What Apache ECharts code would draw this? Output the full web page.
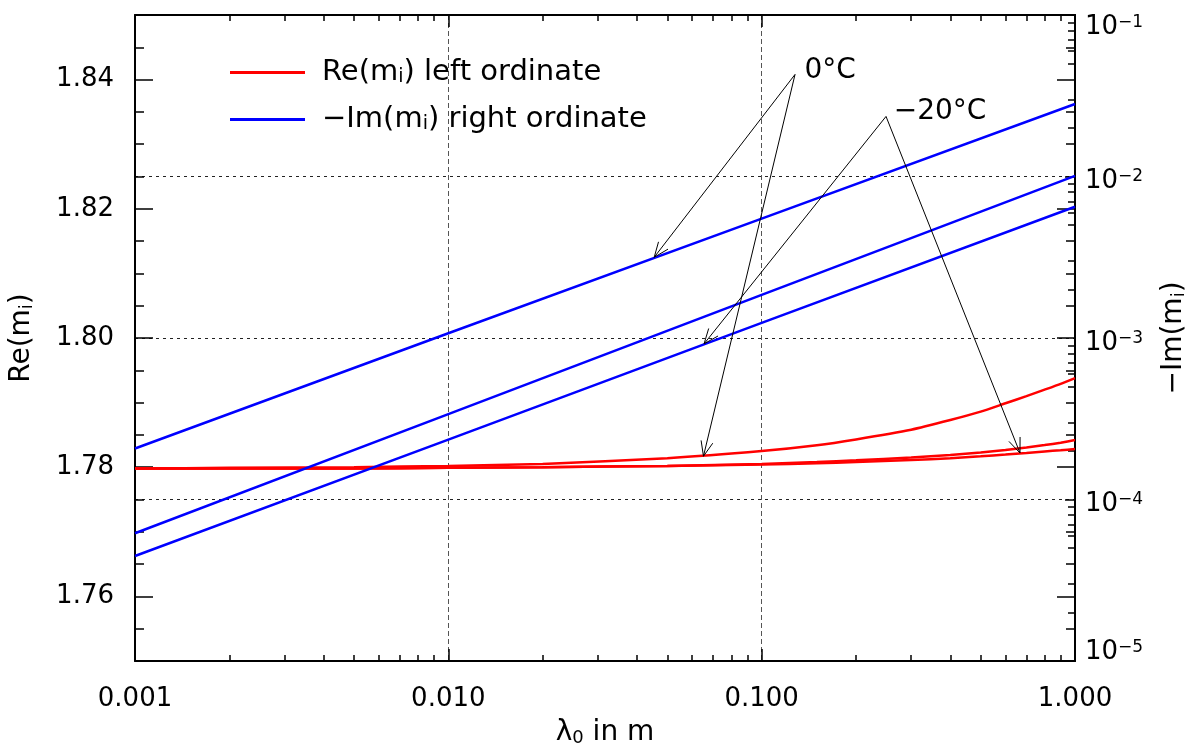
<!DOCTYPE html>
<html>
<head>
<meta charset="utf-8">
<script src="https://cdn.jsdelivr.net/npm/echarts@6/dist/echarts.min.js"></script>
<style>
  html, body { margin: 0; padding: 0; background: #fff; }
  #chart { width: 1192px; height: 747px; }
</style>
</head>
<body>
<div id="chart"></div>
<script>
const FONT = '"DejaVu Sans", sans-serif'
const BLACK = '#000'

// wavelength (m) for the real part curves
const lambdaRe = [0.001, 0.002, 0.005, 0.01, 0.02, 0.05, 0.1, 0.15, 0.2, 0.3, 0.4, 0.5, 0.6, 0.7, 0.8, 0.9, 1.0]
// Re(m_i), 0°C / middle / -20°C
const reWarm = [1.7798, 1.7799, 1.7800, 1.7802, 1.7805, 1.7814, 1.7825, 1.7834, 1.7843, 1.7858, 1.7873, 1.7886, 1.7899, 1.7910, 1.7920, 1.7929, 1.7938]
const reMid = [1.7798, 1.7798, 1.7798, 1.7799, 1.7800, 1.7802, 1.78050, 1.78080, 1.78108, 1.78150, 1.78190, 1.78228, 1.78266, 1.78305, 1.78342, 1.78380, 1.78420]
const reCold = [1.7798, 1.7798, 1.7798, 1.7799, 1.7800, 1.7802, 1.78040, 1.78060, 1.78080, 1.78110, 1.78140, 1.78168, 1.78195, 1.78220, 1.78244, 1.78263, 1.78282]

// wavelength (m) for the imaginary part lines (straight in log-log)
const lambdaIm = [0.001, 0.01, 0.1, 1.0]
const imWarm = [2.07e-4, 1.07e-3, 5.48e-3, 2.81e-2]
const imMid = [6.18e-5, 3.38e-4, 1.85e-3, 1.01e-2]
const imCold = [4.47e-5, 2.35e-4, 1.24e-3, 6.50e-3]

// ticks
const reLabelTicks = [1.76, 1.78, 1.80, 1.82, 1.84]
const reMinorTicks = [1.755, 1.765, 1.77, 1.775, 1.785, 1.79, 1.795, 1.805, 1.81, 1.815, 1.825, 1.83, 1.835, 1.845]
const xDecades = [0.001, 0.01, 0.1]
const imDecades = [1e-5, 1e-4, 1e-3, 1e-2]
const minorSteps = [2, 3, 4, 5, 6, 7, 8, 9]

// annotations: text position, line origin, arrow tips (x, Re(m) coords)
const notes = [
  { text: '0°C', at: [0.1370, 1.8414], from: [0.1278, 1.8408], tips: [[0.0454, 1.8125], [0.0652, 1.7817]] },
  { text: '−20°C', at: [0.2640, 1.8350], from: [0.2494, 1.8343], tips: [[0.0655, 1.7991], [0.6675, 1.7822]] },
]

const pairs = (xs, ys) => xs.map((x, i) => [x, ys[i]])
const logMinor = decades => {
  let out = []
  decades.forEach(d => minorSteps.forEach(k => out.push(Math.log10(k * d))))
  return out
}

const richText = {
  t: { fontSize: 28, fontFamily: FONT, color: BLACK },
  s: { fontSize: 18, fontFamily: FONT, color: BLACK, verticalAlign: 'bottom' },
}
const legendRich = {
  t: { fontSize: 29, fontFamily: FONT, color: BLACK },
  s: { fontSize: 19, fontFamily: FONT, color: BLACK, verticalAlign: 'bottom' },
}
// 10^-n labels; top and bottom ones are pushed inside the frame
const powBase = pad => ({ fontSize: 26, fontFamily: FONT, color: BLACK, padding: pad })
const powExp = pad => ({ fontSize: 17, fontFamily: FONT, color: BLACK, verticalAlign: 'top', padding: pad })
const powRich = {
  b: powBase([10, 0, 0, 0]), e: powExp([10, 0, 0, 0]),
  bt: powBase([24, 0, 0, 0]), et: powExp([24, 0, 0, 0]),
  bb: powBase([0, 0, 18, 0]), eb: powExp([0, 0, 18, 0]),
}
const powLabel = v => {
  const n = Math.round(-Math.log10(v))
  const k = n === 1 ? 't' : (n === 5 ? 'b' : '')
  return '{b' + k + '|10}{e' + k + '|−' + n + '}'
}

const frameLine = { show: true, onZero: false, lineStyle: { color: BLACK, width: 2 } }
const tickStyle = { color: BLACK, width: 1.5 }

// axis that only draws ticks (used for minor and mirrored ticks)
const tickAxis = (extra) => Object.assign({
  axisLine: { show: false, onZero: false },
  axisLabel: { show: false },
  splitLine: { show: false },
}, extra)

const chart = echarts.init(document.getElementById('chart'))

const redLine = { color: '#ff0000', width: 2.5 }
const blueLine = { color: '#0000ff', width: 2.5 }

const options = {
  animation: false,
  backgroundColor: '#fff',
  textStyle: { fontFamily: FONT },
  grid: { left: 135, right: 117, top: 15, bottom: 86, outerBoundsMode: 'none', containLabel: false },
  legend: {
    data: ['Re', 'Im'],
    orient: 'vertical',
    left: 230,
    top: 58,
    padding: 0,
    icon: 'rect',
    itemWidth: 75,
    itemHeight: 3,
    itemGap: 18,
    selectedMode: false,
    formatter: n => n === 'Re'
      ? '{t|Re(m}{s|i}{t|) left ordinate}'
      : '{t|−Im(m}{s|i}{t|) right ordinate}',
    textStyle: { color: BLACK, fontSize: 29, fontFamily: FONT, padding: [0, 0, 0, 12], rich: legendRich },
  },
  xAxis: [
    {
      type: 'log', logBase: 10, min: 0.001, max: 1, position: 'bottom',
      name: '{t|λ}{s|0}{t| in m}', nameLocation: 'middle', nameGap: 58,
      nameTextStyle: { rich: richText },
      axisLine: frameLine,
      axisTick: { show: true, inside: true, length: 12, lineStyle: tickStyle },
      axisLabel: { show: true, margin: 25, fontSize: 26, fontFamily: FONT, color: BLACK, formatter: v => Number(v).toFixed(3) },
      splitLine: { show: true, lineStyle: { color: '#555', width: 1, type: [5, 3] } },
    },
    tickAxis({
      type: 'value', min: -3, max: 0, position: 'bottom',
      axisTick: { show: true, inside: true, length: 6, customValues: logMinor(xDecades), lineStyle: tickStyle },
    }),
    {
      type: 'log', logBase: 10, min: 0.001, max: 1, position: 'top',
      axisLine: frameLine,
      axisTick: { show: true, inside: true, length: 12, lineStyle: tickStyle },
      axisLabel: { show: false },
      splitLine: { show: false },
    },
    tickAxis({
      type: 'value', min: -3, max: 0, position: 'top',
      axisTick: { show: true, inside: true, length: 6, customValues: logMinor(xDecades), lineStyle: tickStyle },
    }),
  ],
  yAxis: [
    {
      type: 'value', min: 1.75, max: 1.85, position: 'left',
      name: '{t|Re(m}{s|i}{t|)}', nameLocation: 'middle', nameRotate: 90, nameGap: 99,
      nameTextStyle: { rich: richText },
      axisLine: frameLine,
      axisTick: { show: true, inside: true, length: 18, customValues: reLabelTicks, lineStyle: tickStyle },
      axisLabel: { show: true, margin: 21, fontSize: 26, fontFamily: FONT, color: BLACK, customValues: reLabelTicks, formatter: v => Number(v).toFixed(2) },
      splitLine: { show: false },
    },
    tickAxis({
      type: 'value', min: 1.75, max: 1.85, position: 'left',
      axisTick: { show: true, inside: true, length: 9, customValues: reMinorTicks, lineStyle: tickStyle },
    }),
    {
      type: 'value', min: 1.75, max: 1.85, position: 'right',
      axisLine: frameLine,
      axisTick: { show: true, inside: true, length: 18, customValues: reLabelTicks, lineStyle: tickStyle },
      axisLabel: { show: false },
      splitLine: { show: false },
    },
    tickAxis({
      type: 'value', min: 1.75, max: 1.85, position: 'right',
      axisTick: { show: true, inside: true, length: 9, customValues: reMinorTicks, lineStyle: tickStyle },
    }),
    {
      type: 'log', logBase: 10, min: 1e-5, max: 1e-1, position: 'right',
      name: '{t|−Im(m}{s|i}{t|)}', nameLocation: 'middle', nameRotate: 90, nameGap: 85,
      nameTextStyle: { rich: richText },
      axisLine: frameLine,
      axisTick: { show: true, inside: true, length: 10, lineStyle: tickStyle },
      axisLabel: { show: true, margin: 10, color: BLACK, formatter: powLabel, rich: powRich },
      splitLine: { show: true, lineStyle: { color: '#222', width: 1, type: [3, 4] } },
    },
    tickAxis({
      type: 'value', min: -5, max: -1, position: 'right',
      axisTick: { show: true, inside: true, length: 7, customValues: logMinor(imDecades), lineStyle: tickStyle },
    }),
  ],
  series: [
    { name: 'Re', type: 'line', xAxisIndex: 0, yAxisIndex: 0, data: pairs(lambdaRe, reWarm), smooth: 0.2, showSymbol: false, lineStyle: redLine, itemStyle: { color: '#ff0000' } },
    { name: 'Re', type: 'line', xAxisIndex: 0, yAxisIndex: 0, data: pairs(lambdaRe, reMid), smooth: 0.2, showSymbol: false, lineStyle: redLine, itemStyle: { color: '#ff0000' } },
    { name: 'Re', type: 'line', xAxisIndex: 0, yAxisIndex: 0, data: pairs(lambdaRe, reCold), smooth: 0.2, showSymbol: false, lineStyle: redLine, itemStyle: { color: '#ff0000' } },
    { name: 'Im', type: 'line', xAxisIndex: 0, yAxisIndex: 4, data: pairs(lambdaIm, imWarm), showSymbol: false, lineStyle: blueLine, itemStyle: { color: '#0000ff' } },
    { name: 'Im', type: 'line', xAxisIndex: 0, yAxisIndex: 4, data: pairs(lambdaIm, imMid), showSymbol: false, lineStyle: blueLine, itemStyle: { color: '#0000ff' } },
    { name: 'Im', type: 'line', xAxisIndex: 0, yAxisIndex: 4, data: pairs(lambdaIm, imCold), showSymbol: false, lineStyle: blueLine, itemStyle: { color: '#0000ff' } },
  ],
}

chart.setOption(options)

// arrows and temperature labels, placed from data coordinates
const toPx = p => chart.convertToPixel({ xAxisIndex: 0, yAxisIndex: 0 }, p)
const arrowHead = (from, tip) => {
  const a = Math.atan2(from[1] - tip[1], from[0] - tip[0])
  const len = 16, w = 22 * Math.PI / 180
  return [
    [tip[0] + len * Math.cos(a + w), tip[1] + len * Math.sin(a + w)],
    tip,
    [tip[0] + len * Math.cos(a - w), tip[1] + len * Math.sin(a - w)],
  ]
}
let graphics = []
notes.forEach(n => {
  const from = toPx(n.from)
  n.tips.forEach(t => {
    const tip = toPx(t)
    graphics.push({ type: 'polyline', silent: true, z: 50, shape: { points: [from, tip] }, style: { stroke: BLACK, lineWidth: 1, fill: null } })
    graphics.push({ type: 'polyline', silent: true, z: 50, shape: { points: arrowHead(from, tip) }, style: { stroke: BLACK, lineWidth: 1, fill: null } })
  })
  const at = toPx(n.at)
  graphics.push({
    type: 'text', silent: true, z: 50, x: at[0], y: at[1],
    style: { text: n.text, fontSize: 28, fontFamily: FONT, fill: BLACK, align: 'left', verticalAlign: 'middle', textAlign: 'left', textVerticalAlign: 'middle' },
  })
})
chart.setOption({ graphic: graphics })

window.addEventListener('resize', function () {
  chart && chart.resize()
})
</script>
</body>
</html>
